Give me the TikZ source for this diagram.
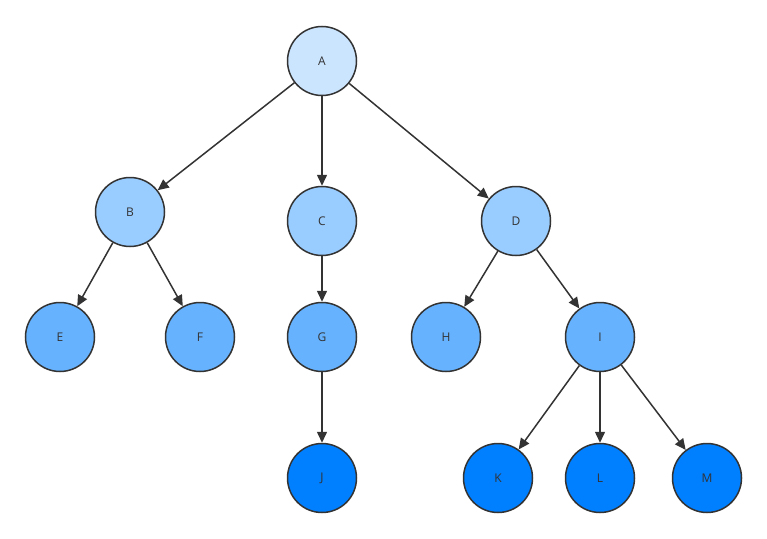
\documentclass[tikz,border=0pt]{standalone}
\usepackage{fontspec}
\setmainfont{Open Sans}
\usetikzlibrary{arrows.meta,positioning}
\definecolor{lvA}{HTML}{CCE5FF}
\definecolor{lvB}{HTML}{99CCFF}
\definecolor{lvC}{HTML}{66B2FF}
\definecolor{lvD}{HTML}{007FFF}
\definecolor{edge}{HTML}{333333}
\begin{document}
\begin{tikzpicture}[
  x=1pt, y=-1pt,
  vertex/.style={circle, draw=edge, line width=1.5pt, minimum size=69pt, inner sep=0pt, font=\fontsize{12}{14}\selectfont, text=edge},
  arrow/.style={-{Triangle[length=11pt, width=10pt]}, line width=1.5pt, draw=edge}
]
  \useasboundingbox (0,0) rectangle (767,538);
  \node[vertex, fill=lvA] (A) at (322,61) {A};
  \node[vertex, fill=lvB] (B) at (130,212) {B};
  \node[vertex, fill=lvB] (C) at (322,221) {C};
  \node[vertex, fill=lvB] (D) at (516,221) {D};
  \node[vertex, fill=lvC] (E) at (60,337) {E};
  \node[vertex, fill=lvC] (F) at (200,337) {F};
  \node[vertex, fill=lvC] (G) at (322,337) {G};
  \node[vertex, fill=lvC] (H) at (446,337) {H};
  \node[vertex, fill=lvC] (I) at (600,337) {I};
  \node[vertex, fill=lvD] (J) at (322,478) {J};
  \node[vertex, fill=lvD] (K) at (498,478) {K};
  \node[vertex, fill=lvD] (L) at (600,478) {L};
  \node[vertex, fill=lvD] (M) at (707,478) {M};
  \draw[arrow] (A) -- (B);
  \draw[arrow] (A) -- (C);
  \draw[arrow] (A) -- (D);
  \draw[arrow] (B) -- (E);
  \draw[arrow] (B) -- (F);
  \draw[arrow] (C) -- (G);
  \draw[arrow] (G) -- (J);
  \draw[arrow] (D) -- (H);
  \draw[arrow] (D) -- (I);
  \draw[arrow] (I) -- (K);
  \draw[arrow] (I) -- (L);
  \draw[arrow] (I) -- (M);
\end{tikzpicture}
\end{document}
